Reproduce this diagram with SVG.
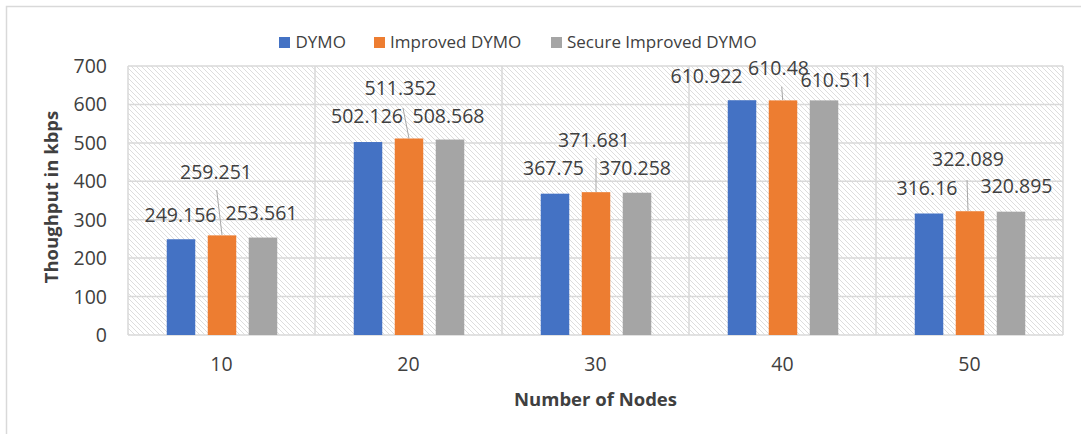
<svg xmlns="http://www.w3.org/2000/svg" width="1081" height="434" viewBox="0 0 1081 434">
  <defs>
    <pattern id="hatch" width="5" height="5" patternUnits="userSpaceOnUse">
      <path d="M0,0 L5,5 M-1,4 L1,6 M4,-1 L6,1" stroke="#d9d9d9" stroke-width="0.9"/>
    </pattern>
    <style>
      .txt { font-family: "Open Sans", "Liberation Sans", sans-serif; fill: #404040; }
      .tick { font-size: 19.5px; }
      .lbl { font-size: 19.5px; text-anchor: middle; }
      .title { font-size: 18.5px; font-weight: bold; text-anchor: middle; }
      .leg { font-size: 17px; }
      .grid { stroke: #d9d9d9; stroke-width: 1.5; fill: none; }
      .lead { stroke: #a6a6a6; stroke-width: 1; }
      .s1 { fill: #4472c4; }
      .s2 { fill: #ed7d31; }
      .s3 { fill: #a5a5a5; }
    </style>
  </defs>

  <!-- chart area -->
  <rect x="0" y="0" width="1081" height="434" fill="#ffffff"/>
  <rect x="6.5" y="6.5" width="1100" height="450" fill="none" stroke="#d9d9d9" stroke-width="1.5"/>

  <!-- plot area with hatch fill and gridlines -->
  <g id="plot-area">
    <rect x="128" y="66" width="935" height="269" fill="url(#hatch)"/>
    <path class="grid" d="M128,66 H1063 M128,104.4 H1063 M128,142.9 H1063 M128,181.3 H1063 M128,219.7 H1063 M128,258.1 H1063 M128,296.6 H1063 M128,335 H1063"/>
    <path class="grid" d="M128,66 V335 M315,66 V335 M502,66 V335 M689,66 V335 M876,66 V335 M1063,66 V335"/>
  </g>

  <!-- value axis -->
  <g id="y-axis" class="txt tick" text-anchor="end">
    <text x="107" y="73">700</text>
    <text x="107" y="111.4">600</text>
    <text x="107" y="149.9">500</text>
    <text x="107" y="188.3">400</text>
    <text x="107" y="226.7">300</text>
    <text x="107" y="265.1">200</text>
    <text x="107" y="303.6">100</text>
    <text x="107" y="342">0</text>
  </g>
  <text id="y-title" class="txt title" transform="translate(58,197) rotate(-90)">Thoughput in kbps</text>

  <!-- category axis -->
  <g id="x-axis" class="txt tick" text-anchor="middle">
    <text x="221.5" y="371">10</text>
    <text x="408.5" y="371">20</text>
    <text x="595.5" y="371">30</text>
    <text x="782.5" y="371">40</text>
    <text x="969.5" y="371">50</text>
  </g>
  <text id="x-title" class="txt title" x="595.5" y="406">Number of Nodes</text>

  <!-- bars: scale 0.38429 px per kbps, baseline y=335 -->
  <g id="series-dymo" class="s1">
    <rect x="166.75" y="239.25" width="28.5" height="95.75"/>
    <rect x="353.75" y="142.04" width="28.5" height="192.96"/>
    <rect x="540.75" y="193.68" width="28.5" height="141.32"/>
    <rect x="727.75" y="100.22" width="28.5" height="234.78"/>
    <rect x="914.75" y="213.50" width="28.5" height="121.50"/>
  </g>
  <g id="series-improved" class="s2">
    <rect x="207.75" y="235.37" width="28.5" height="99.63"/>
    <rect x="394.75" y="138.49" width="28.5" height="196.51"/>
    <rect x="581.75" y="192.17" width="28.5" height="142.83"/>
    <rect x="768.75" y="100.39" width="28.5" height="234.61"/>
    <rect x="955.75" y="211.23" width="28.5" height="123.77"/>
  </g>
  <g id="series-secure" class="s3">
    <rect x="248.75" y="237.56" width="28.5" height="97.44"/>
    <rect x="435.75" y="139.56" width="28.5" height="195.44"/>
    <rect x="622.75" y="192.71" width="28.5" height="142.29"/>
    <rect x="809.75" y="100.38" width="28.5" height="234.62"/>
    <rect x="996.75" y="211.68" width="28.5" height="123.32"/>
  </g>

  <!-- leader lines for displaced labels -->
  <g id="connectors" class="lead">
    <line x1="216.7" y1="190" x2="222" y2="235"/>
    <line x1="403" y1="108" x2="409" y2="138.5"/>
    <line x1="596" y1="158" x2="596" y2="192"/>
    <line x1="781.7" y1="86.7" x2="782.7" y2="100"/>
    <line x1="967" y1="180" x2="968" y2="211"/>
  </g>

  <!-- data labels -->
  <g id="labels" class="txt lbl">
    <text x="180.5" y="221.7">249.156</text>
    <text x="216" y="179">259.251</text>
    <text x="261.5" y="220">253.561</text>

    <text x="367" y="123">502.126</text>
    <text x="400.5" y="95">511.352</text>
    <text x="448.5" y="123">508.568</text>

    <text x="553.5" y="175">367.75</text>
    <text x="594" y="147">371.681</text>
    <text x="635" y="175">370.258</text>

    <text x="706.5" y="82.7">610.922</text>
    <text x="778.5" y="75">610.48</text>
    <text x="836.5" y="86.7">610.511</text>

    <text x="927" y="195">316.16</text>
    <text x="968" y="166">322.089</text>
    <text x="1016.5" y="193">320.895</text>
  </g>

  <!-- legend -->
  <g id="legend" class="txt leg">
    <rect class="s1" x="279" y="37" width="11" height="11"/>
    <text x="295.5" y="48">DYMO</text>
    <rect class="s2" x="374" y="37" width="11" height="11"/>
    <text x="390" y="48">Improved DYMO</text>
    <rect class="s3" x="551" y="37" width="11" height="11"/>
    <text x="567" y="48">Secure Improved DYMO</text>
  </g>
</svg>
